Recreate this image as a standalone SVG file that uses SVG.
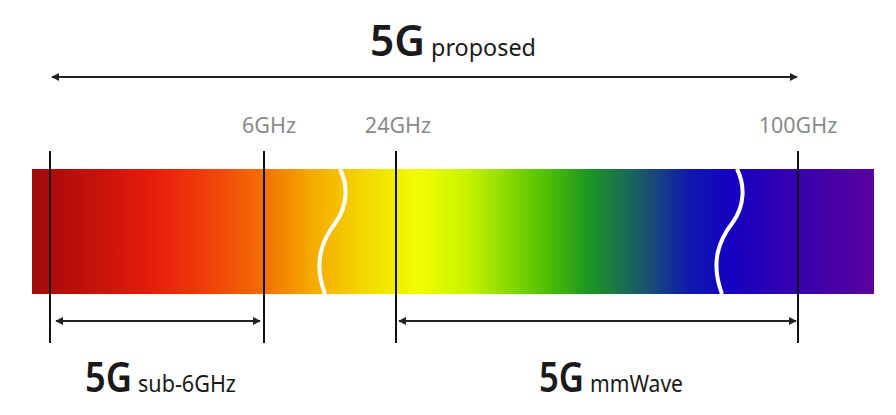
<svg xmlns="http://www.w3.org/2000/svg" width="896" height="415" viewBox="0 0 896 415">
<defs>
<linearGradient id="spec" x1="32" y1="0" x2="874" y2="0" gradientUnits="userSpaceOnUse">
<stop offset="0" stop-color="#a20a0a"/>
<stop offset="0.03" stop-color="#b00c0a"/>
<stop offset="0.14" stop-color="#e41c0a"/>
<stop offset="0.2" stop-color="#ef3a08"/>
<stop offset="0.27" stop-color="#f46a04"/>
<stop offset="0.33" stop-color="#f5a800"/>
<stop offset="0.39" stop-color="#f4d400"/>
<stop offset="0.43" stop-color="#f0ee00"/>
<stop offset="0.46" stop-color="#f2ff00"/>
<stop offset="0.52" stop-color="#c4f200"/>
<stop offset="0.6" stop-color="#5cc800"/>
<stop offset="0.66" stop-color="#1c9820"/>
<stop offset="0.72" stop-color="#1a5c64"/>
<stop offset="0.78" stop-color="#0e1ab0"/>
<stop offset="0.83" stop-color="#1400c0"/>
<stop offset="0.9" stop-color="#3300b0"/>
<stop offset="1" stop-color="#5a009c"/>
</linearGradient>
<marker id="ah" viewBox="0 0 10 10" refX="9" refY="5" markerWidth="4" markerHeight="4" orient="auto-start-reverse">
<path d="M0,0 L10,5 L0,10 z" fill="#222"/>
</marker>
</defs>
<style>
.big{font-family:"Noto Sans","Open Sans",sans-serif;font-weight:600;fill:#1a1a1a}
.small{font-family:"Noto Sans","Open Sans",sans-serif;fill:#1a1a1a}
.freq{font-family:"Noto Sans","Open Sans",sans-serif;font-size:21.5px;fill:#8a8a8a}
.arr{stroke:#222;stroke-width:2;fill:none;marker-start:url(#ah);marker-end:url(#ah)}
.tick{stroke:#111;stroke-width:2}
.wave{stroke:#fff;stroke-width:4;fill:none}
</style>
<g id="spectrum">
<rect x="32" y="169" width="842" height="125" fill="url(#spec)"/>
<path class="wave" d="M340,169 C348,185 348,205 336,222 C322,240 313,262 325,294"/>
<path class="wave" d="M737,169 C745,185 745,205 733,222 C719,240 710,262 722,294"/>
</g>
<g id="ticks">
<line class="tick" x1="50" y1="151" x2="50" y2="343"/>
<line class="tick" x1="264" y1="151" x2="264" y2="343"/>
<line class="tick" x1="396" y1="151" x2="396" y2="343"/>
<line class="tick" x1="798" y1="151" x2="798" y2="343"/>
</g>
<g id="freq-labels">
<text class="freq" x="269" y="133" text-anchor="middle">6GHz</text>
<text class="freq" x="398" y="133" text-anchor="middle">24GHz</text>
<text class="freq" x="798" y="133" text-anchor="middle">100GHz</text>
</g>
<g id="connectors">
<line class="arr" x1="52" y1="77" x2="797" y2="77"/>
<line class="arr" x1="56" y1="321" x2="260" y2="321"/>
<line class="arr" x1="399" y1="321" x2="796" y2="321"/>
</g>
<g id="title-proposed">
<text x="370" y="56"><tspan class="big" font-size="44" textLength="55" lengthAdjust="spacingAndGlyphs">5G</tspan><tspan class="small" font-size="24" dx="6" textLength="105" lengthAdjust="spacingAndGlyphs">proposed</tspan></text>
</g>
<g id="label-sub6">
<text x="85" y="392"><tspan class="big" font-size="41" textLength="47" lengthAdjust="spacingAndGlyphs">5G</tspan><tspan class="small" font-size="23" dx="6" textLength="98" lengthAdjust="spacingAndGlyphs">sub-6GHz</tspan></text>
</g>
<g id="label-mmwave">
<text x="539" y="392"><tspan class="big" font-size="41" textLength="45" lengthAdjust="spacingAndGlyphs">5G</tspan><tspan class="small" font-size="23" dx="6" textLength="93" lengthAdjust="spacingAndGlyphs">mmWave</tspan></text>
</g>
</svg>
